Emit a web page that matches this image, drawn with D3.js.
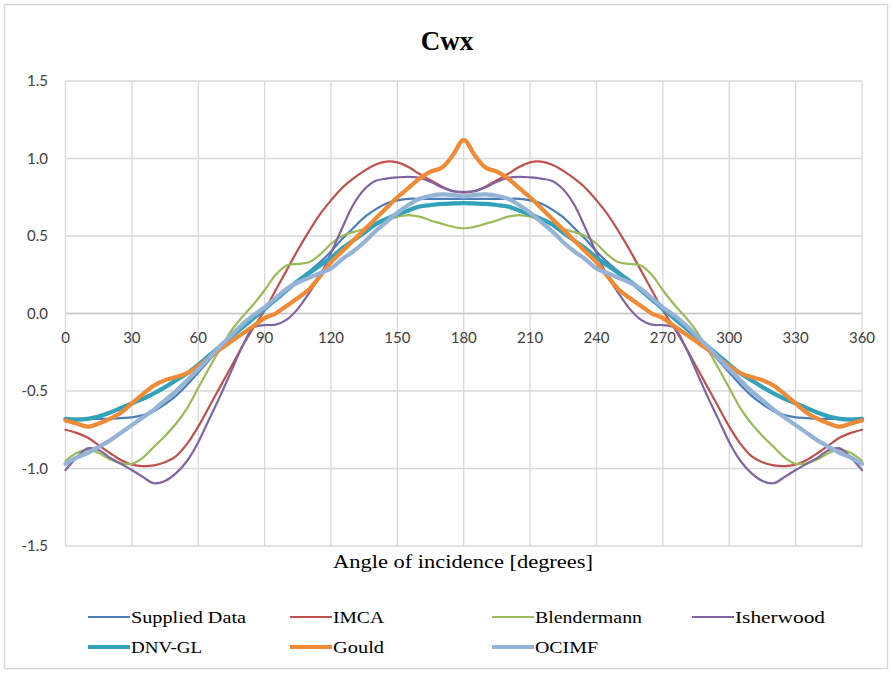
<!DOCTYPE html>
<html><head><meta charset="utf-8">
<script src="https://cdn.jsdelivr.net/npm/d3@7"></script>
<style>body{margin:0;background:#fff;}svg{display:block;}</style>
</head><body><svg id="c" width="892" height="673"></svg>
<script>
const angles = d3.range(0, 361, 5);
const xTicks = [0,30,60,90,120,150,180,210,240,270,300,330,360];
const yTicks = [-1.5,-1.0,-0.5,0.0,0.5,1.0,1.5];
const seriesNames = ["Supplied Data","IMCA","Blendermann","Isherwood","DNV-GL","Gould","OCIMF"];
const supplied = [-0.68,-0.68,-0.68,-0.68,-0.68,-0.675,-0.67,-0.655,-0.63,-0.585,-0.53,-0.46,-0.38,-0.30,-0.22,-0.15,-0.08,-0.02,0.03,0.09,0.15,0.21,0.27,0.33,0.40,0.48,0.55,0.62,0.67,0.71,0.73,0.74,0.74,0.74,0.74,0.74,0.74,
  0.74,0.74,0.74,0.74,0.74,0.73,0.71,0.67,0.62,0.55,0.48,0.40,0.33,0.27,0.21,0.15,0.09,0.03,-0.02,-0.08,-0.15,-0.22,-0.30,-0.38,-0.46,-0.53,-0.585,-0.63,-0.655,-0.67,-0.675,-0.68,-0.68,-0.68,-0.68,-0.68];
const imca = [-0.75,-0.77,-0.80,-0.85,-0.90,-0.945,-0.975,-0.985,-0.98,-0.96,-0.92,-0.84,-0.73,-0.60,-0.47,-0.34,-0.21,-0.09,0.02,0.15,0.28,0.41,0.53,0.64,0.73,0.81,0.87,0.92,0.96,0.98,0.975,0.945,0.90,0.86,0.82,0.79,0.78,
  0.79,0.82,0.86,0.90,0.945,0.975,0.98,0.96,0.92,0.87,0.81,0.73,0.64,0.53,0.41,0.28,0.15,0.02,-0.09,-0.21,-0.34,-0.47,-0.60,-0.73,-0.84,-0.92,-0.96,-0.98,-0.985,-0.975,-0.945,-0.90,-0.85,-0.80,-0.77,-0.75];
const blendermann = [-0.95,-0.90,-0.88,-0.90,-0.94,-0.965,-0.97,-0.93,-0.86,-0.79,-0.71,-0.61,-0.48,-0.35,-0.225,-0.11,-0.02,0.06,0.15,0.25,0.31,0.32,0.33,0.38,0.45,0.50,0.525,0.545,0.575,0.60,0.625,0.635,0.625,0.60,0.58,0.56,0.55,
  0.56,0.58,0.60,0.625,0.635,0.625,0.60,0.575,0.545,0.525,0.50,0.45,0.38,0.33,0.32,0.31,0.25,0.15,0.06,-0.02,-0.11,-0.225,-0.35,-0.48,-0.61,-0.71,-0.79,-0.86,-0.93,-0.97,-0.965,-0.94,-0.90,-0.88,-0.90,-0.95];
const isherwood = [-1.01,-0.93,-0.87,-0.88,-0.93,-0.97,-1.01,-1.055,-1.095,-1.08,-1.03,-0.95,-0.83,-0.68,-0.53,-0.37,-0.21,-0.09,-0.075,-0.072,-0.04,0.03,0.13,0.24,0.39,0.55,0.70,0.80,0.855,0.87,0.878,0.882,0.875,0.85,0.815,0.79,0.785,
  0.79,0.815,0.85,0.875,0.882,0.878,0.87,0.855,0.80,0.70,0.55,0.39,0.24,0.13,0.03,-0.04,-0.072,-0.075,-0.09,-0.21,-0.37,-0.53,-0.68,-0.83,-0.95,-1.03,-1.08,-1.095,-1.055,-1.01,-0.97,-0.93,-0.88,-0.87,-0.93,-1.01];
const dnvgl = [-0.68,-0.685,-0.68,-0.665,-0.64,-0.61,-0.58,-0.55,-0.515,-0.475,-0.43,-0.385,-0.33,-0.27,-0.21,-0.15,-0.09,-0.03,0.03,0.09,0.15,0.21,0.26,0.31,0.36,0.42,0.47,0.52,0.575,0.61,0.64,0.665,0.69,0.70,0.707,0.71,0.712,
  0.71,0.707,0.70,0.69,0.665,0.64,0.61,0.575,0.52,0.47,0.42,0.36,0.31,0.26,0.21,0.15,0.09,0.03,-0.03,-0.09,-0.15,-0.21,-0.27,-0.33,-0.385,-0.43,-0.475,-0.515,-0.55,-0.58,-0.61,-0.64,-0.665,-0.68,-0.685,-0.68];
const gould = [-0.69,-0.71,-0.73,-0.71,-0.68,-0.64,-0.58,-0.52,-0.465,-0.43,-0.41,-0.385,-0.34,-0.285,-0.23,-0.18,-0.13,-0.08,-0.03,0.0,0.05,0.10,0.155,0.24,0.33,0.40,0.47,0.54,0.61,0.68,0.75,0.81,0.87,0.915,0.94,1.02,1.12,
  1.02,0.94,0.915,0.87,0.81,0.75,0.68,0.61,0.54,0.47,0.40,0.33,0.24,0.155,0.10,0.05,0.0,-0.03,-0.08,-0.13,-0.18,-0.23,-0.285,-0.34,-0.385,-0.41,-0.43,-0.465,-0.52,-0.58,-0.64,-0.68,-0.71,-0.73,-0.71,-0.69];
const ocimf = [-0.97,-0.93,-0.90,-0.86,-0.82,-0.77,-0.72,-0.67,-0.62,-0.56,-0.50,-0.43,-0.36,-0.285,-0.21,-0.14,-0.07,-0.01,0.04,0.10,0.16,0.20,0.23,0.26,0.29,0.35,0.40,0.46,0.53,0.59,0.65,0.70,0.74,0.76,0.768,0.765,0.755,
  0.765,0.768,0.76,0.74,0.70,0.65,0.59,0.53,0.46,0.40,0.35,0.29,0.26,0.23,0.20,0.16,0.10,0.04,-0.01,-0.07,-0.14,-0.21,-0.285,-0.36,-0.43,-0.50,-0.56,-0.62,-0.67,-0.72,-0.77,-0.82,-0.86,-0.90,-0.93,-0.97];

const seriesValues = [supplied, imca, blendermann, isherwood, dnvgl, gould, ocimf];
const colors = ["#4A7EBB","#C0504D","#9BBB59","#8064A2","#31A2B9","#F08A35","#95B3D7"];
const widths = [2.2,2.2,2.2,2.2,4.2,4.2,4.2];
const serif = "'Liberation Serif', 'Times New Roman', serif";

const svg = d3.select("#c");
svg.append("rect").attr("x",4.5).attr("y",4.5).attr("width",883).attr("height",664)
  .attr("fill","#fff").attr("stroke","#D9D9D9").attr("stroke-width",1.5);

const x = d3.scaleLinear().domain([0,360]).range([65.5,862]);
const y = d3.scaleLinear().domain([-1.5,1.5]).range([546,81]);

const g = svg.append("g");
// grid
g.selectAll(".vg").data(xTicks).enter().append("line")
  .attr("x1",d=>x(d)).attr("x2",d=>x(d)).attr("y1",y(1.5)).attr("y2",y(-1.5))
  .attr("stroke","#D9D9D9").attr("stroke-width",1.3);
g.selectAll(".hg").data(yTicks).enter().append("line")
  .attr("x1",x(0)).attr("x2",x(360)).attr("y1",d=>y(d)).attr("y2",d=>y(d))
  .attr("stroke","#D9D9D9").attr("stroke-width",1.3);
g.append("line").attr("x1",x(0)).attr("x2",x(360)).attr("y1",y(0)).attr("y2",y(0))
  .attr("stroke","#C8C8C8").attr("stroke-width",1.5);

// tick labels
const tickFont = "Lato, 'Open Sans', sans-serif";
g.selectAll(".xl").data(xTicks).enter().append("text")
  .attr("x",d=>x(d)).attr("y",y(0)+29).attr("text-anchor","middle")
  .attr("font-family",tickFont).attr("font-size",15).attr("fill","#404040").text(d=>d);
g.selectAll(".yl").data(yTicks).enter().append("text")
  .attr("x",48).attr("y",d=>y(d)+5).attr("text-anchor","end")
  .attr("font-family",tickFont).attr("font-size",15).attr("fill","#404040").text(d=>d.toFixed(1));

// lines
const line = d3.line().x(d=>x(d[0])).y(d=>y(d[1])).curve(d3.curveCatmullRom.alpha(0.5));
seriesValues.forEach((vals,i)=>{
  g.append("path").datum(angles.map((a,j)=>[a,vals[j]]))
    .attr("d",line).attr("fill","none").attr("stroke",colors[i])
    .attr("stroke-width",widths[i]).attr("stroke-linejoin","round").attr("stroke-linecap","round");
});

// title
svg.append("text").attr("x",447).attr("y",50).attr("text-anchor","middle")
  .attr("font-family",serif).attr("font-weight","bold")
  .attr("font-size",27).attr("fill","#000").text("Cwx");
svg.append("text").attr("x",333).attr("y",568)
  .attr("font-family",serif).attr("textLength",260).attr("lengthAdjust","spacingAndGlyphs")
  .attr("font-size",18).attr("fill","#000").text("Angle of incidence [degrees]");

// legend
const legX = [88,290,492,692, 88,290,492];
const legY = [617,617,617,617, 647,647,647];
const legTextW = [115,51,107,90,71,51,63];
seriesNames.forEach((n,i)=>{
  svg.append("line").attr("x1",legX[i]).attr("x2",legX[i]+42).attr("y1",legY[i]).attr("y2",legY[i])
    .attr("stroke",colors[i]).attr("stroke-width",widths[i]);
  svg.append("text").attr("x",legX[i]+43).attr("y",legY[i]+6)
    .attr("font-family",serif).attr("textLength",legTextW[i]).attr("lengthAdjust","spacingAndGlyphs")
    .attr("font-size",17).attr("fill","#000").text(n);
});
</script></body></html>
